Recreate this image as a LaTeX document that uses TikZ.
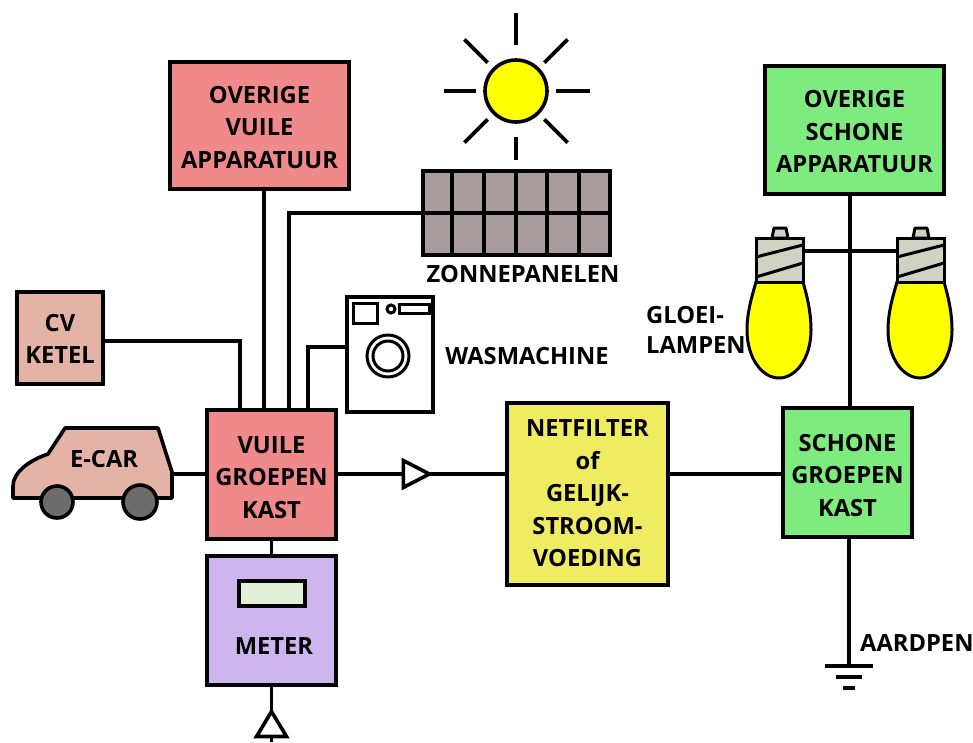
\documentclass[tikz,border=0pt]{standalone}
\usepackage{fontspec}
\setmainfont{Open Sans}
\usetikzlibrary{shapes.geometric}
\definecolor{vuilrood}{HTML}{F08A8A}
\definecolor{ketelroze}{HTML}{E3B3A5}
\definecolor{schoongroen}{HTML}{7DEB7D}
\definecolor{filtergeel}{HTML}{EFEC62}
\definecolor{meterpaars}{HTML}{CDB5EE}
\definecolor{schermgroen}{HTML}{E3F0D8}
\definecolor{paneelgrijs}{HTML}{A99C9C}
\definecolor{wielgrijs}{HTML}{6D6B6B}
\definecolor{fittinggrijs}{HTML}{D2D2C4}
\definecolor{lampgeel}{HTML}{FFFF00}
\begin{document}
\begin{tikzpicture}[
  x=1pt, y=-1pt,
  wire/.style={line width=3.6pt},
  box/.style={rectangle, draw, line width=3.6pt, outer sep=0pt, inner sep=0pt},
  boxtxt/.style={inner sep=0pt, align=center, font=\fontsize{23.7}{32.5}\selectfont\bfseries},
  label/.style={inner sep=0pt, align=left, font=\fontsize{23.7}{30}\selectfont\bfseries},
  driehoek/.style={isosceles triangle, isosceles triangle stretches, draw, fill=white,
    line width=3.6pt, outer sep=0pt, inner sep=0pt, minimum width=27pt, minimum height=26pt}
]
  \useasboundingbox (0,0) rectangle (973,742);

  \node[box, fill=vuilrood, minimum width=179pt, minimum height=127pt]    (vuil) at (259.5,125.5) {};
  \node[boxtxt] (vuiltxt) at (259.5,127.5) {OVERIGE\\VUILE\\APPARATUUR};
  \node[box, fill=schoongroen, minimum width=179pt, minimum height=128pt] (schoon) at (854.5,130) {};
  \node[boxtxt] (schoontxt) at (854.5,132) {OVERIGE\\SCHONE\\APPARATUUR};
  \node[box, fill=ketelroze, minimum width=86pt, minimum height=92pt]     (ketel) at (60,338) {};
  \node[boxtxt] (keteltxt) at (60,339) {CV\\KETEL};
  \node[box, fill=vuilrood, minimum width=129pt, minimum height=129pt]    (vkast) at (271.5,474.5) {};
  \node[boxtxt] (vkasttxt) at (271.5,477.5) {VUILE\\GROEPEN\\KAST};
  \node[box, fill=meterpaars, minimum width=129pt, minimum height=129pt]  (meter) at (271.5,620.5) {};
  \node[box, fill=schermgroen, minimum width=66pt, minimum height=25pt]   (scherm) at (272,593.5) {};
  \node[label] (metertxt) at (274,646) {METER};
  \node[box, fill=filtergeel, minimum width=161pt, minimum height=182pt]  (filter) at (587.5,494) {};
  \node[boxtxt] (filtertxt) at (587.5,493.5) {NETFILTER\\of\\GELIJK-\\STROOM-\\VOEDING};
  \node[box, fill=schoongroen, minimum width=129pt, minimum height=129pt] (skast) at (847.5,472.5) {};
  \node[boxtxt] (skasttxt) at (847.5,475.5) {SCHONE\\GROEPEN\\KAST};

  \coordinate (vk1) at (240,410);
  \coordinate (vk2) at (264,410);
  \coordinate (vk3) at (289,410);
  \coordinate (vk4) at (308,410);

  \node[box, fill=paneelgrijs, minimum width=187pt, minimum height=84pt] (paneel) at (516.5,213) {};
  \foreach \px in {452,484,516,547,579}
    \draw[wire] (\px,171) -- (\px,255);
  \draw[wire] (paneel.west) -- (paneel.east);
  \node[label] (paneeltxt) at (523,274) {ZONNEPANELEN};

  \node[circle, draw, line width=3.6pt, fill=lampgeel, minimum size=62pt, inner sep=0pt] (zon) at (516,91) {};
  \foreach \a/\ra/\rb in {0/40/74,45/40/73,90/46/69,135/40/73,180/40/72,225/40/73,270/46/78,315/40/73}
    \draw[wire] (zon.center) ++(\a:\ra) -- ++(\a:\rb-\ra);

  \node[box, fill=white, minimum width=86pt, minimum height=115pt] (wasser) at (390,354.5) {};
  \draw[line width=3pt] (353,303) rectangle (377,323);
  \draw[line width=3pt] (391,309) circle (4);
  \draw[line width=3pt] (399,304) rectangle (429,313);
  \draw[line width=3pt] (388,356) circle (21);
  \draw[line width=3pt] (388,356) circle (15);
  \node[label] (wastxt) at (527,356) {WASMACHINE};

  \draw[wire, line join=round, fill=ketelroze] (172,498) -- (172,472) -- (158,428) -- (65,428) -- (48,454)
    .. controls (30,460) and (13,472) .. (13,486) -- (13,498) -- cycle;
  \node[circle, draw, line width=3.6pt, fill=wielgrijs, minimum size=32pt, inner sep=0pt] (wiel1) at (57,502) {};
  \node[circle, draw, line width=3.6pt, fill=wielgrijs, minimum size=34pt, inner sep=0pt] (wiel2) at (140,502) {};
  \node[label] (car) at (104,459) {E-CAR};
  \coordinate (carr) at (172,474);

  \draw[wire] (vuil.south -| vk2) -- (vk2);
  \draw[wire] (paneel.west) -| (vk3);
  \draw[wire] ([yshift=-3pt]ketel.east) -| (vk1);
  \draw[wire] ([yshift=7.5pt]wasser.west) -| (vk4);
  \draw[wire] (carr) -- (carr -| vkast.west);
  \draw[wire] (vkast.south) -- (vkast.south |- meter.north);

  \node[driehoek] (pijl) at (411.5,474) {};
  \draw[wire] (vkast.east |- pijl.lower side) -- (pijl.lower side);
  \draw[wire] (pijl.apex) -- (pijl.apex -| filter.west);
  \draw[wire] (filter.east |- pijl.apex) -- (pijl.apex -| skast.west);

  \node[driehoek, shape border rotate=90, minimum width=30pt, minimum height=25pt] (invoer) at (271.5,728) {};
  \draw[wire] (meter.south) -- (invoer.apex);
  \coordinate (invoereind) at (271.5,742);
  \draw[wire] (invoer.lower side) -- (invoereind);

  \draw[wire] ([xshift=2.5pt]skast.north) -- ([xshift=2.5pt]skast.north |- schoon.south);

  \foreach \lx/\ln in {0/A,141/B} {
    \begin{scope}[xshift=\lx pt]
      \draw[line width=3pt, fill=fittinggrijs, line join=round] (772,238) -- (774,228) -- (786,228) -- (788,238) -- cycle;
      \draw[line width=3pt, fill=lampgeel] (756,282) .. controls (752,296) and (747,312) .. (747,330)
        .. controls (747,358) and (762,378) .. (779,378) .. controls (796,378) and (811,358) .. (811,330)
        .. controls (811,312) and (807,296) .. (803,282) -- cycle;
      \node[draw, line width=3pt, fill=fittinggrijs, minimum width=47pt, minimum height=44pt, outer sep=0pt, inner sep=0pt] (fitting\ln) at (779.5,260) {};
      \draw[line width=3pt] (756,257) -- (803,245);
      \draw[line width=3pt] (756,277) -- (803,263);
    \end{scope}
  }
  \draw[wire] ([yshift=9pt]fittingA.east) -- ([yshift=9pt]fittingB.west);
  \node[label, anchor=north west] (gloei) at (646,306) {GLOEI-\\LAMPEN};

  \coordinate (aarde) at (849,666);
  \draw[wire] (skast.south -| aarde) -- (aarde);
  \draw[wire] (825,666) -- (873,666);
  \draw[wire] (836,677) -- (862,677);
  \draw[wire] (843,688) -- (855,688);
  \node[label, anchor=west] (aardtxt) at (860,643) {AARDPEN};
\end{tikzpicture}
\end{document}
